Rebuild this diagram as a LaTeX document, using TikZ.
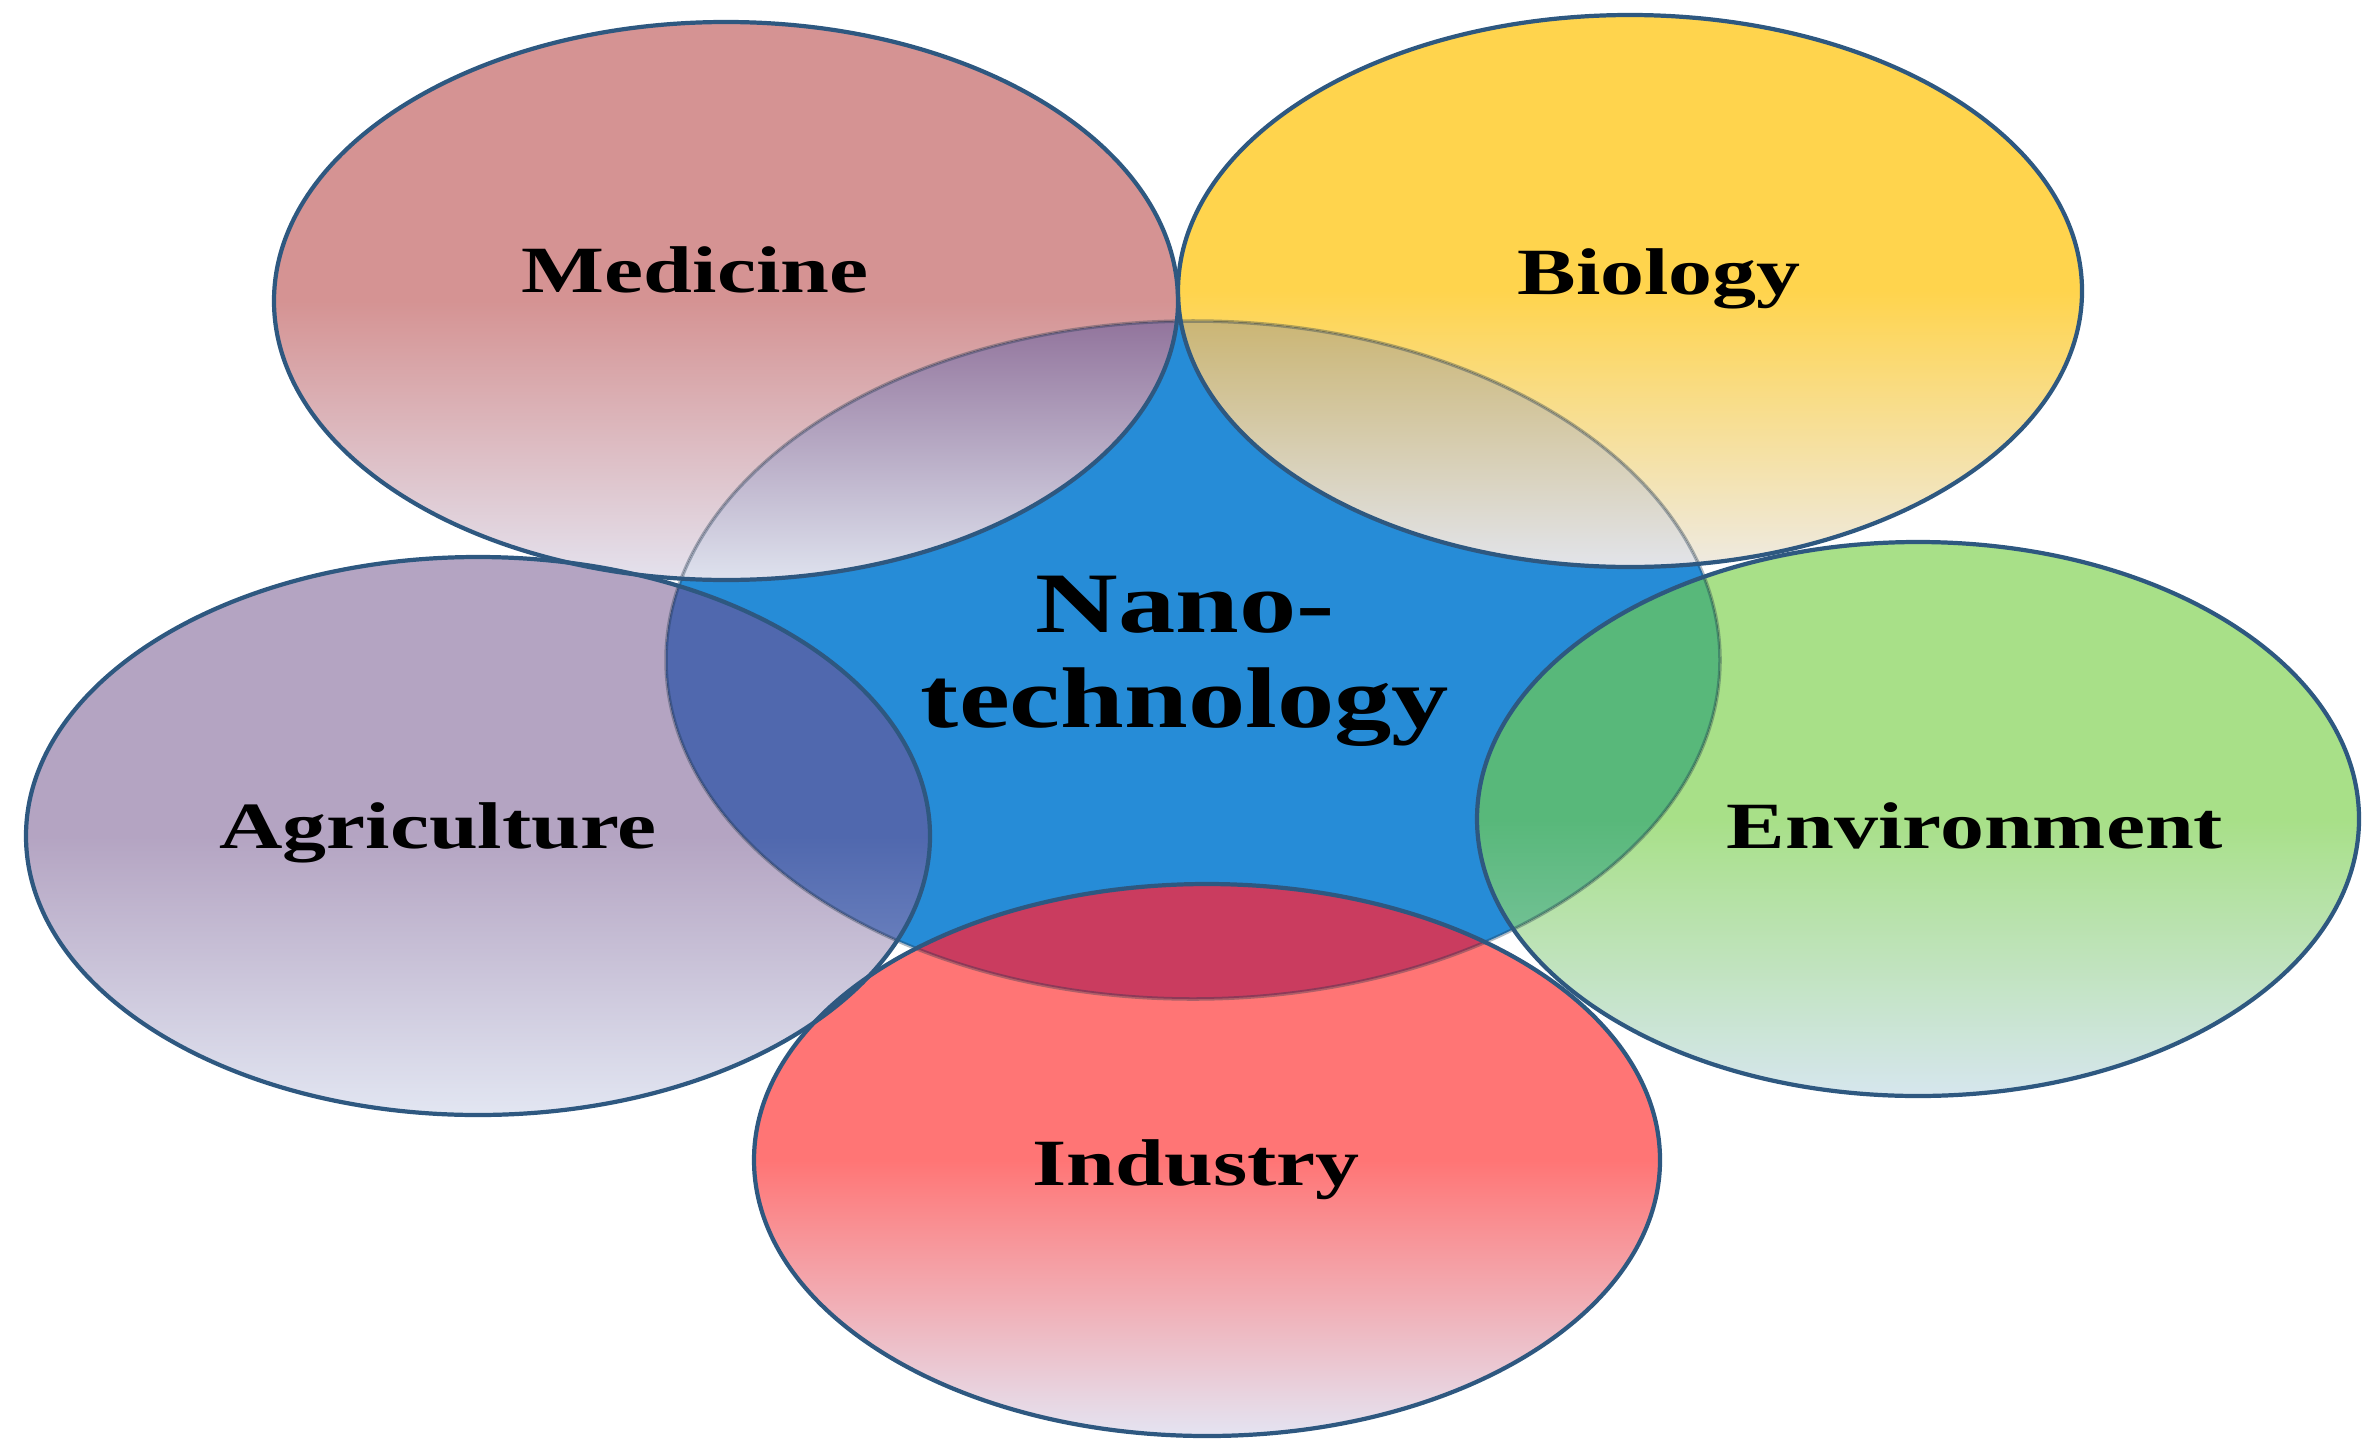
\documentclass[tikz,border=0pt]{standalone}
\usepackage{fontspec}
\usepackage{tikz}
\newfontfamily\lblfont[FakeStretch=1.33]{Liberation Serif}
\definecolor{ring_line}{RGB}{46,88,128}
\definecolor{nano_blue}{RGB}{38,140,215}
\definecolor{med_top}{RGB}{213,147,147}
\definecolor{med_bot}{RGB}{228,226,238}
\definecolor{med_ovl}{RGB}{140,108,150}
\definecolor{med_ovlb}{RGB}{222,226,238}
\definecolor{bio_top}{RGB}{255,212,77}
\definecolor{bio_bot}{RGB}{238,234,226}
\definecolor{bio_ovl}{RGB}{200,176,102}
\definecolor{bio_ovlb}{RGB}{226,228,234}
\definecolor{agr_top}{RGB}{180,164,194}
\definecolor{agr_bot}{RGB}{226,230,242}
\definecolor{agr_ovl}{RGB}{80,104,174}
\definecolor{agr_ovlb}{RGB}{140,160,210}
\definecolor{env_top}{RGB}{168,224,136}
\definecolor{env_bot}{RGB}{214,230,238}
\definecolor{env_ovl}{RGB}{88,184,122}
\definecolor{env_ovlb}{RGB}{150,205,185}
\definecolor{ind_top}{RGB}{255,117,117}
\definecolor{ind_bot}{RGB}{228,228,242}
\definecolor{ind_ovl}{RGB}{202,60,95}

\begin{document}
\begin{tikzpicture}[scale=1,
    ring/.style={draw=ring_line,line width=1.2pt},
    lbl/.style={font=\lblfont\bfseries\fontsize{18.8}{22}\selectfont,anchor=base,inner sep=0pt},
    biglbl/.style={font=\lblfont\bfseries\fontsize{24.5}{27}\selectfont,anchor=base,inner sep=0pt}]
  \useasboundingbox (0,0) rectangle (23.62,14.39);
  \coordinate (N1) at (11.93,7.79);
  \coordinate (M1) at (7.26,11.38);
  \coordinate (B1) at (16.30,11.48);
  \coordinate (A1) at (4.78,6.03);
  \coordinate (E1) at (19.18,6.20);
  \coordinate (I1) at (12.07,2.79);
  % centre
  \fill[nano_blue] (N1) ellipse [x radius=5.27,y radius=3.39];
  % outer fields
  \fill[top color=med_top,bottom color=med_bot,middle color=med_top] (M1) ellipse [x radius=4.52,y radius=2.79];
  \fill[top color=bio_top,bottom color=bio_bot,middle color=bio_top] (B1) ellipse [x radius=4.52,y radius=2.76];
  \fill[top color=agr_top,bottom color=agr_bot,middle color=agr_top] (A1) ellipse [x radius=4.52,y radius=2.79];
  \fill[top color=env_top,bottom color=env_bot,middle color=env_top] (E1) ellipse [x radius=4.41,y radius=2.77];
  \fill[top color=ind_top,bottom color=ind_bot,middle color=ind_top] (I1) ellipse [x radius=4.53,y radius=2.76];
  % overlaps with the centre
  \begin{scope}
    \clip (N1) ellipse [x radius=5.27,y radius=3.39];
    \fill[top color=med_ovl,bottom color=med_ovlb,middle color=med_ovl] (M1) ellipse [x radius=4.52,y radius=2.79];
    \fill[top color=bio_ovl,bottom color=bio_ovlb,middle color=bio_ovl] (B1) ellipse [x radius=4.52,y radius=2.76];
    \fill[top color=agr_ovl,bottom color=agr_ovlb,middle color=agr_ovl] (A1) ellipse [x radius=4.52,y radius=2.79];
    \fill[top color=env_ovl,bottom color=env_ovlb,middle color=env_ovl] (E1) ellipse [x radius=4.41,y radius=2.77];
    \fill[ind_ovl] (I1) ellipse [x radius=4.53,y radius=2.76];
  \end{scope}
  \draw[ring_line!60!black,opacity=0.35,line width=1pt] (N1) ellipse [x radius=5.27,y radius=3.39];
  % outlines
  \draw[ring] (M1) ellipse [x radius=4.52,y radius=2.79];
  \draw[ring] (B1) ellipse [x radius=4.52,y radius=2.76];
  \draw[ring] (A1) ellipse [x radius=4.52,y radius=2.79];
  \draw[ring] (E1) ellipse [x radius=4.41,y radius=2.77];
  \draw[ring] (I1) ellipse [x radius=4.53,y radius=2.76];
  % labels
  \node[lbl] (med) at (6.95,11.47) {Medicine};
  \node[lbl] (bio) at (16.59,11.45) {Biology};
  \node[lbl] (agr) at (4.38,5.91) {Agriculture};
  \node[lbl] (env) at (19.75,5.91) {Environment};
  \node[lbl] (ind) at (11.96,2.54) {Industry};
  \node[biglbl] (nano) at (11.85,8.07) {Nano-};
  \node[biglbl] (tech) at (11.85,7.12) {technology};
\end{tikzpicture}
\end{document}
